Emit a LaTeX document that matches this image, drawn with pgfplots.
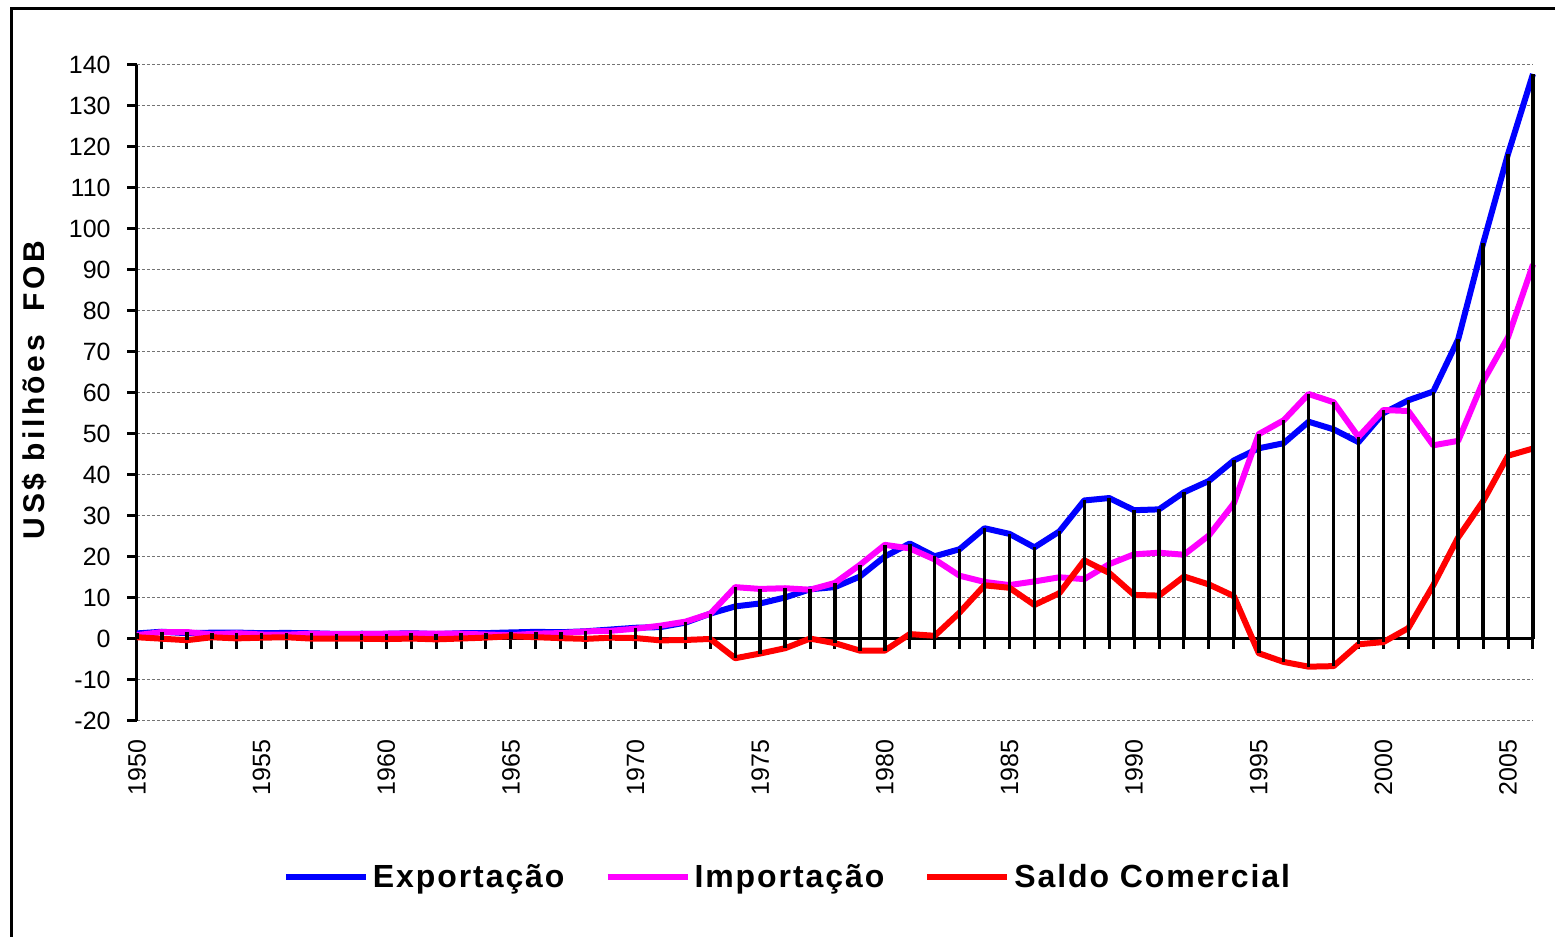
\documentclass[border=0pt]{standalone}
\usepackage{fontspec}
\setmainfont{Liberation Sans}
\usepackage{pgfplots}
\pgfplotsset{compat=1.18}
\usepackage{pgfplotstable}
\definecolor{cexp}{RGB}{0,0,255}
\definecolor{cimp}{RGB}{255,0,255}
\definecolor{csal}{RGB}{255,0,0}
\pgfplotstableread{
year exp imp sal
1950 1.36 0.93 0.43
1951 1.77 1.70 0.07
1952 1.42 1.70 -0.29
1953 1.54 1.12 0.42
1954 1.56 1.41 0.15
1955 1.42 1.10 0.32
1956 1.48 1.05 0.43
1957 1.39 1.29 0.10
1958 1.24 1.18 0.06
1959 1.28 1.21 0.07
1960 1.27 1.29 -0.02
1961 1.40 1.29 0.11
1962 1.21 1.30 -0.09
1963 1.41 1.29 0.12
1964 1.43 1.09 0.34
1965 1.60 0.94 0.66
1966 1.74 1.30 0.44
1967 1.65 1.44 0.21
1968 1.88 1.86 0.03
1969 2.31 1.99 0.32
1970 2.74 2.51 0.23
1971 2.90 3.25 -0.34
1972 3.99 4.23 -0.24
1973 6.20 6.19 0.01
1974 7.95 12.64 -4.69
1975 8.67 12.21 -3.54
1976 10.13 12.38 -2.25
1977 12.12 12.02 0.10
1978 12.66 13.68 -1.02
1979 15.24 18.08 -2.84
1980 20.13 22.96 -2.82
1981 23.29 22.09 1.20
1982 20.18 19.40 0.78
1983 21.90 15.43 6.47
1984 27.01 13.92 13.09
1985 25.64 13.15 12.49
1986 22.35 14.04 8.30
1987 26.22 15.05 11.17
1988 33.79 14.61 19.18
1989 34.38 18.26 16.12
1990 31.41 20.66 10.75
1991 31.62 21.04 10.58
1992 35.79 20.55 15.24
1993 38.55 25.26 13.30
1994 43.55 33.08 10.47
1995 46.51 49.97 -3.47
1996 47.75 53.35 -5.60
1997 52.99 59.75 -6.75
1998 51.14 57.76 -6.62
1999 48.01 49.30 -1.29
2000 55.09 55.85 -0.75
2001 58.22 55.60 2.65
2002 60.36 47.24 13.12
2003 73.08 48.33 24.79
2004 96.48 62.84 33.64
2005 118.31 73.61 44.70
2006 137.81 91.35 46.46
}\data
\begin{document}
\begin{tikzpicture}
\useasboundingbox (0,0) rectangle (777.5pt,468.5pt);
\draw[line width=1.5pt] (5.75pt,-1pt) -- (5.75pt,464pt) -- (779pt,464pt);
\begin{axis}[
  at={(68.5pt,108pt)}, anchor=south west,
  scale only axis, width=698pt, height=328pt,
  xmin=1950, xmax=2006, ymin=-20, ymax=140,
  clip=false,
  axis x line=middle, axis y line=left,
  axis line style={-, line width=1.5pt},
  hide obscured x ticks=false, hide obscured y ticks=false,
  ytick={-20,-10,...,140},
  xtick={1950,1955,...,2005},
  minor x tick num=4,
  extra x ticks={2006}, extra x tick labels={},
  extra x tick style={grid=none},
  tick align=outside,
  major tick length=5pt, minor tick length=5pt,
  every tick/.style={black, line width=1.5pt},
  ymajorgrids,
  major grid style={black!55, line width=0.5pt, dash pattern=on 1.5pt off 1pt},
  /pgf/number format/1000 sep={},
  /pgf/number format/assume math mode=true,
  xticklabel style={rotate=90, anchor=east, inner sep=0pt, font=\fontsize{12.5}{14}\selectfont},
  xticklabel shift=45pt,
  yticklabel style={anchor=east, inner sep=0pt, font=\fontsize{12.5}{15}\selectfont},
  yticklabel shift=8pt,
  ylabel={US\$ bilhões\ \ FOB},
  ylabel style={at={(axis description cs:-0.0731,0.5046)}, anchor=center,
    font=\fontsize{15}{17}\bfseries\selectfont\addfontfeature{LetterSpace=12}},
  legend columns=3,
  legend style={draw=none, fill=none, at={(0.4667,-0.2378)}, anchor=center,
    font=\fontsize{16}{19}\bfseries\selectfont\addfontfeature{LetterSpace=6},
    /tikz/every even column/.append style={column sep=18pt}},
  legend image code/.code={\draw[#1, line width=3pt] (0pt,0pt) -- (40pt,0pt);},
]
\addplot[cexp, line width=3pt, line join=round] table[x=year,y=exp]{\data};
\addlegendentry{Exportação}
\addplot[cimp, line width=3pt, line join=round] table[x=year,y=imp]{\data};
\addlegendentry{Importação}
\addplot[csal, line width=3pt, line join=round] table[x=year,y=sal]{\data};
\addlegendentry{Saldo Comercial}
\addplot[ycomb, black, line width=1.75pt, forget plot] table[x=year,y=exp]{\data};
\addplot[ycomb, black, line width=1.75pt, forget plot] table[x=year,y=imp]{\data};
\addplot[ycomb, black, line width=1.75pt, forget plot] table[x=year,y=sal]{\data};
\end{axis}
\end{tikzpicture}
\end{document}
